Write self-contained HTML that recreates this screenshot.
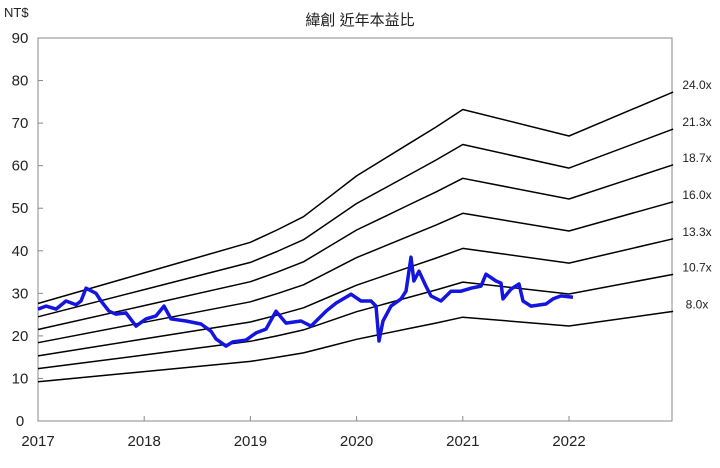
<!DOCTYPE html>
<html><head><meta charset="utf-8"><style>
body{margin:0;background:#fff;}
svg text{font-family:"Liberation Sans","Noto Sans CJK TC",sans-serif;}
</style></head><body>
<svg id="c" width="720" height="463" xmlns="http://www.w3.org/2000/svg">
<text x="360" y="25" text-anchor="middle" font-size="15" fill="#222">緯創 近年本益比</text>
<text x="4" y="17" font-size="13" fill="#222">NT$</text>
<rect x="38" y="38" width="634" height="383" fill="none" stroke="#888" stroke-width="1"/>
<g id="axes"></g><g id="bands"></g><g id="price"></g>
</svg>
<script>
const yTicks=[0,10,20,30,40,50,60,70,80,90];
const xTicks=[2017,2018,2019,2020,2021,2022];
const multiples=[8.0,10.7,13.3,16.0,18.7,21.3,24.0];
const multLabels=["8.0x","10.7x","13.3x","16.0x","18.7x","21.3x","24.0x"];
const epsYears=[2017,2018,2019,2019.25,2019.5,2019.75,2020,2020.25,2020.5,2020.75,2021,2022,2022.98];
const epsValues=[1.15,1.45,1.75,1.87,2.0,2.2,2.4,2.56,2.72,2.88,3.05,2.79,3.22];
const priceYears=[2017,2017.075,2017.17,2017.264,2017.358,2017.405,2017.452,2017.546,2017.593,2017.669,2017.734,2017.829,2017.923,2018.017,2018.111,2018.186,2018.252,2018.394,2018.535,2018.629,2018.676,2018.77,2018.836,2018.959,2019.053,2019.147,2019.241,2019.335,2019.476,2019.571,2019.712,2019.806,2019.947,2020.041,2020.136,2020.183,2020.211,2020.249,2020.324,2020.418,2020.465,2020.512,2020.54,2020.588,2020.653,2020.701,2020.795,2020.889,2020.983,2021.077,2021.171,2021.218,2021.313,2021.36,2021.379,2021.454,2021.529,2021.567,2021.642,2021.783,2021.849,2021.925,2022.038];
const priceValues=[26.3,27,26.3,28.2,27.3,28.2,31.2,30,28.2,25.8,25.1,25.4,22.3,24,24.7,27,24,23.5,22.8,21.1,19.3,17.6,18.6,19,20.7,21.6,25.8,23,23.5,22.3,25.8,27.7,29.8,28.2,28.2,27,18.8,23.5,27,28.7,30.5,38.5,32.9,35.2,31.7,29.4,28.2,30.5,30.5,31.2,31.7,34.5,32.9,32.4,28.7,31,32.2,28.2,27,27.5,28.7,29.4,29.1];
const X=y=>38+(y-2017)*106.2, Y=v=>421-v*(383/90);
const NS="http://www.w3.org/2000/svg";
function mk(p,t,a){const e=document.createElementNS(NS,t);for(const k in a)e.setAttribute(k,a[k]);p.appendChild(e);return e;}
const ax=document.getElementById('axes');
yTicks.forEach(v=>{
 const t=mk(ax,'text',{x:20,y:Y(v)+5,'text-anchor':'middle','font-size':15,fill:'#222'});t.textContent=v;
 
 
 const l=mk(ax,'line',{x1:38,x2:43,y1:Y(v),y2:Y(v),stroke:'#888'});
 
 
});
xTicks.forEach(v=>{
 const t=mk(ax,'text',{x:X(v),y:446,'text-anchor':'middle','font-size':15,fill:'#222'});t.textContent=v;
 
 
 const l=mk(ax,'line',{x1:X(v),x2:X(v),y1:421,y2:416,stroke:'#888'});
 
 
});
const bg=document.getElementById('bands');
multiples.forEach((m,i)=>{
 const pts=epsYears.map((y,j)=>X(y).toFixed(1)+','+Y(epsValues[j]*m).toFixed(1)).join(' ');
 const p=mk(bg,'polyline',{points:pts,fill:'none',stroke:'#000','stroke-width':1.5,'stroke-linejoin':'round'});
 
 
 const lastV=epsValues[epsValues.length-1]*m;
 const t=mk(bg,'text',{x:697,y:Y(lastV)-3,'text-anchor':'middle','font-size':12,fill:'#222'});
 t.textContent=multLabels[i];
 
 
});
const pg=document.getElementById('price');
const pp=priceYears.map((y,j)=>X(y).toFixed(1)+','+Y(priceValues[j]).toFixed(1)).join(' ');
const pl=mk(pg,'polyline',{points:pp,fill:'none',stroke:'#1515e0','stroke-width':3.5,'stroke-linejoin':'round'});


</script>
</body></html>
